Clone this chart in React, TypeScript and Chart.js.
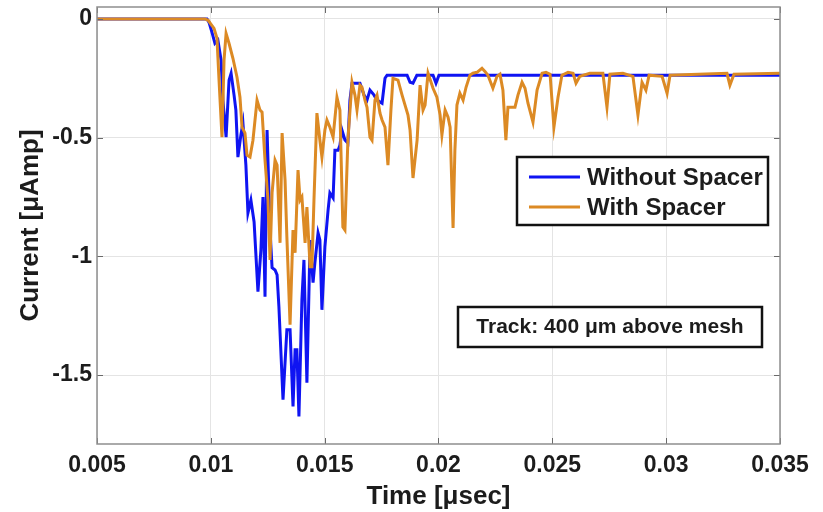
import React, { useEffect, useRef } from "react";
import { Chart, registerables } from "chart.js";

Chart.register(...registerables);

// ---- Data (time in µsec, current in µAmp) ----
const withoutSpacerTime = [
  0.005, 0.00983, 0.00992, 0.01005, 0.01018, 0.01031, 0.01045, 0.01053, 0.01067, 0.0108,
  0.01089, 0.01102, 0.0111, 0.01119, 0.01132, 0.01141, 0.01154, 0.01163, 0.01176, 0.0119,
  0.01207, 0.0122, 0.01229, 0.01238, 0.01247, 0.0126, 0.01269, 0.01282, 0.01291, 0.01299,
  0.01317, 0.01334, 0.01348, 0.01361, 0.0137, 0.01378, 0.01387, 0.014, 0.01409, 0.01422,
  0.01436, 0.01449, 0.01457, 0.01471, 0.01479, 0.01488, 0.01501, 0.01515, 0.01523, 0.01537,
  0.01545, 0.01559, 0.01567, 0.01576, 0.01589, 0.01602, 0.01611, 0.0162, 0.01655, 0.01673,
  0.01686, 0.01699, 0.01717, 0.0173, 0.01752, 0.01765, 0.01774, 0.01862, 0.01875, 0.01888,
  0.01905, 0.01976, 0.01989, 0.02002, 0.035,
];
const withoutSpacerCurrent = [
  0, 0, -0.015, -0.057, -0.103, -0.09, -0.174, -0.342, -0.498, -0.258,
  -0.229, -0.321, -0.384, -0.582, -0.489, -0.439, -0.616, -0.817, -0.763, -0.855,
  -1.149, -0.973, -0.75, -1.17, -0.468, -0.889, -1.048, -1.057, -1.078, -1.212,
  -1.603, -1.309, -1.309, -1.632, -1.393, -1.393, -1.674, -1.183, -1.015, -1.532,
  -0.931, -1.111, -1.027, -0.901, -0.931, -1.225, -0.96, -0.805, -0.733, -0.754,
  -0.553, -0.553, -0.532, -0.468, -0.51, -0.523, -0.342, -0.271, -0.271, -0.321,
  -0.342, -0.3, -0.321, -0.342, -0.355, -0.25, -0.237, -0.237, -0.267, -0.271,
  -0.237, -0.237, -0.271, -0.237, -0.237,
];

const withSpacerTime = [
  0.005, 0.00974, 0.00988, 0.01001, 0.01014, 0.01027, 0.01036, 0.01049, 0.01058, 0.01067,
  0.0108, 0.01097, 0.01115, 0.01128, 0.01137, 0.0115, 0.01159, 0.01172, 0.01185, 0.01203,
  0.01216, 0.01225, 0.01238, 0.01251, 0.0126, 0.01269, 0.01282, 0.01291, 0.01304, 0.01313,
  0.01326, 0.01334, 0.01348, 0.01361, 0.0137, 0.01383, 0.01392, 0.014, 0.01414, 0.01422,
  0.01436, 0.01444, 0.01453, 0.01466, 0.01479, 0.01488, 0.01501, 0.0151, 0.01523, 0.01537,
  0.01554, 0.01567, 0.0158, 0.01589, 0.01602, 0.0162, 0.01633, 0.01642, 0.01655, 0.01664,
  0.01677, 0.01686, 0.01699, 0.01708, 0.01721, 0.0173, 0.01743, 0.01752, 0.01765, 0.01778,
  0.01791, 0.018, 0.01822, 0.0184, 0.01853, 0.01866, 0.01875, 0.01888, 0.01906, 0.01919,
  0.01932, 0.01941, 0.01954, 0.01976, 0.01993, 0.02007, 0.02015, 0.02029, 0.02042, 0.02051,
  0.02064, 0.02072, 0.02081, 0.02094, 0.02108, 0.02121, 0.02138, 0.02151, 0.02169, 0.02191,
  0.02204, 0.02217, 0.02239, 0.02257, 0.0227, 0.02283, 0.02296, 0.02305, 0.02323, 0.02336,
  0.02349, 0.02367, 0.0238, 0.02393, 0.02415, 0.02433, 0.02455, 0.02472, 0.0249, 0.02507,
  0.02525, 0.02542, 0.02569, 0.02591, 0.02604, 0.02621, 0.02665, 0.02722, 0.0274, 0.02753,
  0.0281, 0.02854, 0.02876, 0.02894, 0.02911, 0.02925, 0.02982, 0.03004, 0.03017, 0.03267,
  0.0328, 0.03298, 0.035,
];
const withSpacerCurrent = [
  0, 0, -0.006, -0.023, -0.04, -0.082, -0.258, -0.498, -0.174, -0.061,
  -0.103, -0.166, -0.246, -0.33, -0.456, -0.481, -0.574, -0.582, -0.511, -0.342,
  -0.384, -0.393, -0.595, -0.763, -1.015, -0.733, -0.595, -0.616, -0.943, -0.481,
  -0.679, -0.918, -1.288, -0.889, -0.985, -0.637, -0.763, -0.75, -0.943, -0.792,
  -1.044, -1.044, -0.763, -0.397, -0.511, -0.582, -0.468, -0.426, -0.456, -0.498,
  -0.33, -0.384, -0.876, -0.889, -0.511, -0.267, -0.321, -0.384, -0.279, -0.288,
  -0.342, -0.372, -0.498, -0.511, -0.342, -0.321, -0.397, -0.426, -0.456, -0.616,
  -0.384, -0.25, -0.258, -0.321, -0.363, -0.405, -0.468, -0.67, -0.511, -0.279,
  -0.384, -0.363, -0.229, -0.292, -0.33, -0.405, -0.489, -0.384, -0.414, -0.456,
  -0.88, -0.553, -0.363, -0.313, -0.342, -0.288, -0.237, -0.229, -0.225, -0.208,
  -0.221, -0.237, -0.292, -0.242, -0.233, -0.3, -0.511, -0.372, -0.372, -0.372,
  -0.321, -0.267, -0.292, -0.355, -0.435, -0.3, -0.229, -0.225, -0.233, -0.456,
  -0.33, -0.237, -0.225, -0.229, -0.271, -0.242, -0.229, -0.229, -0.372, -0.233,
  -0.229, -0.242, -0.405, -0.267, -0.3, -0.237, -0.242, -0.313, -0.237, -0.229,
  -0.279, -0.233, -0.229,
];

const seriesNames = ["Without Spacer", "With Spacer"];
const xTickValues = [0.005, 0.01, 0.015, 0.02, 0.025, 0.03, 0.035];
const xTickLabels = ["0.005", "0.01", "0.015", "0.02", "0.025", "0.03", "0.035"];
const yTickValues = [-1.5, -1, -0.5, 0];
const yTickLabels = ["-1.5", "-1", "-0.5", "0"];
const xTitle = "Time [\u03bcsec]";
const yTitle = "Current [\u03bcAmp]";
const annotationText = "Track: 400 \u03bcm above mesh";

const BLUE = "#0f14f2";
const ORANGE = "#dc8a24";
const FONT = "'Liberation Sans', Arial, Helvetica, sans-serif";
const NARROW = "'Liberation Sans Narrow', 'Arial Narrow'";
const TEXT = "#1c1c1c";

function fontAvailable(name: string): boolean {
  const c = document.createElement("canvas").getContext("2d");
  if (!c) return false;
  const s = "abcdefghijklmnopqrstuvwxyz0123456789.";
  const res: boolean[] = [];
  for (const base of ["monospace", "serif"]) {
    c.font = `bold 40px ${base}`;
    const w1 = c.measureText(s).width;
    c.font = `bold 40px '${name}', ${base}`;
    const w2 = c.measureText(s).width;
    res.push(Math.abs(w1 - w2) > 0.5);
  }
  return res[0] && res[1];
}

const overlayPlugin = {
  id: "overlay",
  afterDatasetsDraw(chart: any) {
    const { ctx, chartArea, scales } = chart;
    const { left, right, top, bottom } = chartArea;
    const x = scales.x;
    const y = scales.y;
    ctx.save();
    // inner tick marks
    ctx.strokeStyle = "#6a6a6a";
    ctx.lineWidth = 1;
    ctx.beginPath();
    for (const v of xTickValues) {
      const px = Math.round(x.getPixelForValue(v)) + 0.5;
      ctx.moveTo(px, bottom);
      ctx.lineTo(px, bottom - 6);
      ctx.moveTo(px, top);
      ctx.lineTo(px, top + 6);
    }
    for (const v of yTickValues) {
      const py = Math.round(y.getPixelForValue(v)) + 0.5;
      ctx.moveTo(left, py);
      ctx.lineTo(left + 6, py);
      ctx.moveTo(right, py);
      ctx.lineTo(right - 6, py);
    }
    ctx.stroke();
    // frame
    ctx.strokeStyle = "#8e8e8e";
    ctx.lineWidth = 1.5;
    ctx.strokeRect(left, top, right - left, bottom - top);

    // legend box
    const lx = left + 420;
    const ly = top + 150;
    const lw = 251;
    const lh = 68;
    ctx.fillStyle = "#ffffff";
    ctx.fillRect(lx, ly, lw, lh);
    ctx.strokeStyle = "#111111";
    ctx.lineWidth = 2.5;
    ctx.strokeRect(lx, ly, lw, lh);
    const colors = [BLUE, ORANGE];
    ctx.font = `bold 24px ${FONT}`;
    ctx.textBaseline = "middle";
    ctx.textAlign = "left";
    seriesNames.forEach((name, i) => {
      const yy = ly + 20 + i * 30;
      ctx.strokeStyle = colors[i];
      ctx.lineWidth = 3;
      ctx.beginPath();
      ctx.moveTo(lx + 12, yy);
      ctx.lineTo(lx + 63, yy);
      ctx.stroke();
      ctx.fillStyle = TEXT;
      ctx.fillText(name, lx + 70, yy + 1);
    });

    // annotation box
    const ax = left + 361;
    const ay = top + 300;
    const aw = 304;
    const ah = 40;
    ctx.fillStyle = "#ffffff";
    ctx.fillRect(ax, ay, aw, ah);
    ctx.strokeStyle = "#111111";
    ctx.lineWidth = 2.5;
    ctx.strokeRect(ax, ay, aw, ah);
    ctx.font = `bold 21px ${FONT}`;
    ctx.textAlign = "center";
    ctx.fillStyle = TEXT;
    ctx.fillText(annotationText, ax + aw / 2, ay + ah / 2);
    ctx.restore();
  },
};

export default function App() {
  const canvasRef = useRef<HTMLCanvasElement | null>(null);

  useEffect(() => {
    document.body.style.margin = "0";
    const canvas = canvasRef.current;
    if (!canvas) return;
    const narrowOk = fontAvailable("Liberation Sans Narrow");
    const xTickFont = narrowOk
      ? { family: `${NARROW}, ${FONT}`, size: 28, weight: "bold" as const }
      : { family: FONT, size: 23, weight: "bold" as const };
    const xTickPad = narrowOk ? 6 : 8;

    const chart = new Chart(canvas, {
      type: "line",
      data: {
        datasets: [
          {
            label: seriesNames[0],
            data: withoutSpacerTime.map((t, i) => ({ x: t, y: withoutSpacerCurrent[i] })),
            borderColor: BLUE,
            borderWidth: 3,
            pointRadius: 0,
            tension: 0,
            fill: false,
            order: 1,
          },
          {
            label: seriesNames[1],
            data: withSpacerTime.map((t, i) => ({ x: t, y: withSpacerCurrent[i] })),
            borderColor: ORANGE,
            borderWidth: 3,
            pointRadius: 0,
            tension: 0,
            fill: false,
            order: 0,
          },
        ],
      },
      options: {
        responsive: false,
        animation: false,
        devicePixelRatio: 1,
        layout: { padding: { left: 0, right: 43, top: 7, bottom: 0 } },
        plugins: { legend: { display: false }, tooltip: { enabled: false } },
        scales: {
          x: {
            type: "linear",
            min: 0.005,
            max: 0.035,
            afterBuildTicks: (s: any) => {
              s.ticks = xTickValues.map((v) => ({ value: v }));
            },
            afterFit: (s: any) => {
              s.height = 68;
              s.paddingLeft = 0;
              s.paddingRight = 0;
            },
            ticks: {
              autoSkip: false,
              maxRotation: 0,
              padding: xTickPad,
              color: TEXT,
              font: xTickFont,
              callback: (_v: any, i: number) => xTickLabels[i],
            },
            grid: { color: "#e4e4e4", lineWidth: 1, drawTicks: false },
            border: { display: false },
            title: {
              display: true,
              text: xTitle,
              color: TEXT,
              font: { family: FONT, size: 26, weight: "bold", lineHeight: 1.2 },
              padding: 0,
            },
          },
          y: {
            type: "linear",
            min: -1.79,
            max: 0.05,
            afterBuildTicks: (s: any) => {
              s.ticks = yTickValues.map((v) => ({ value: v }));
            },
            afterFit: (s: any) => {
              s.width = 97;
              s.paddingTop = 0;
              s.paddingBottom = 0;
            },
            ticks: {
              autoSkip: false,
              padding: 5,
              color: TEXT,
              font: { family: FONT, size: 23, weight: "bold" },
              callback: (_v: any, i: number) => yTickLabels[i],
            },
            grid: { color: "#e4e4e4", lineWidth: 1, drawTicks: false },
            border: { display: false },
            title: {
              display: true,
              text: yTitle,
              color: TEXT,
              font: { family: FONT, size: 26, weight: "bold", lineHeight: 1.2 },
              padding: { top: 15, bottom: 0 },
            },
          },
        },
      },
      plugins: [overlayPlugin],
    });
    return () => chart.destroy();
  }, []);

  return (
    <div style={{ width: 823, height: 512, background: "#fff" }}>
      <canvas ref={canvasRef} width={823} height={512} style={{ display: "block" }} />
    </div>
  );
}
